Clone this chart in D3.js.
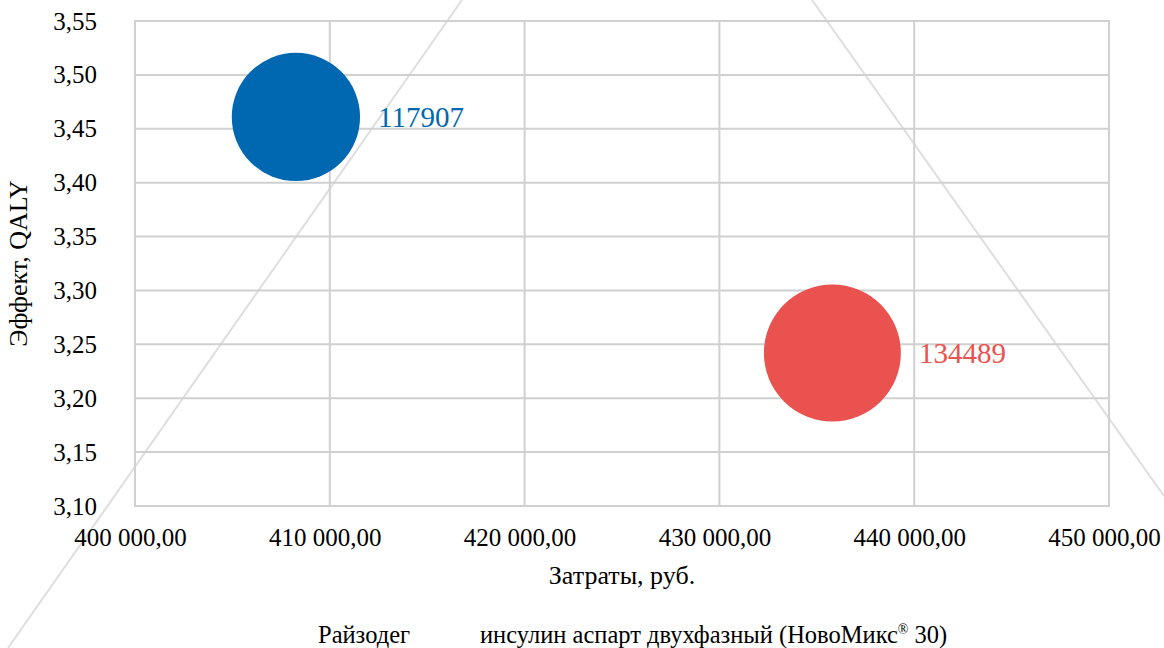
<!DOCTYPE html>
<html lang="ru">
<head>
<meta charset="utf-8">
<title>Затраты и эффект</title>
<script src="https://cdn.jsdelivr.net/npm/d3@7"></script>
<style>
  html, body { margin: 0; padding: 0; background: #ffffff; }
  svg { display: block; font-family: "Liberation Serif", "Times New Roman", serif; }
</style>
</head>
<body>
<svg id="chart" width="1164" height="648"></svg>
<script>
// Series data
const categories = ["Райзодег", "инсулин аспарт двухфазный (НовоМикс® 30)"];
const costs = [408260, 435800];      // Затраты, руб.
const effects = [3.461, 3.242];      // Эффект, QALY
const sizes = [117907, 134489];      // bubble size values
const colors = ["#0068b1", "#e9524e"];

// Axis ticks
const xTicks = [400000, 410000, 420000, 430000, 440000, 450000];
const yTicks = [3.10, 3.15, 3.20, 3.25, 3.30, 3.35, 3.40, 3.45, 3.50, 3.55];

const W = 1164, H = 648;
const margin = { left: 135, right: 55, top: 21, bottom: 142 };
const svg = d3.select("#chart");

const ru = d3.formatLocale({ decimal: ",", thousands: " ", grouping: [3], currency: ["", " руб."] });
const fmtX = ru.format(",.2f");
const fmtY = ru.format(".2f");

const x = d3.scaleLinear().domain([400000, 450000]).range([margin.left, W - margin.right]);
const y = d3.scaleLinear().domain([3.10, 3.55]).range([H - margin.bottom, margin.top]);
const r = d3.scaleSqrt().domain([0, d3.max(sizes)]).range([0, 68.5]);

// Decorative background wedge
const deco = svg.append("g").attr("stroke", "#dedede").attr("stroke-width", 2).attr("fill", "none");
deco.append("line").attr("x1", 462).attr("y1", 0).attr("x2", 8).attr("y2", H);
deco.append("line").attr("x1", 812).attr("y1", 0).attr("x2", 1164).attr("y2", 496);

// Gridlines
const grid = svg.append("g").attr("stroke", "#d0d0d0").attr("stroke-width", 2);
grid.selectAll("line.gx").data(xTicks).join("line").attr("class", "gx")
  .attr("x1", d => x(d)).attr("x2", d => x(d))
  .attr("y1", y(3.55)).attr("y2", y(3.10));
grid.selectAll("line.gy").data(yTicks).join("line").attr("class", "gy")
  .attr("y1", d => y(d)).attr("y2", d => y(d))
  .attr("x1", x(400000) - 1).attr("x2", x(450000) + 1);

// Axes (labels only, lines are the grid)
const xAxis = svg.append("g").attr("transform", `translate(-5,${y(3.10)})`)
  .call(d3.axisBottom(x).tickValues(xTicks).tickFormat(fmtX).tickSize(0).tickPadding(22));
xAxis.select(".domain").remove();
xAxis.selectAll("text").attr("font-size", 25).attr("fill", "#000").attr("font-family", "Liberation Serif");

const yAxis = svg.append("g").attr("transform", `translate(${x(400000)},0)`)
  .call(d3.axisLeft(y).tickValues(yTicks).tickFormat(fmtY).tickSize(0).tickPadding(38));
yAxis.select(".domain").remove();
yAxis.selectAll("text").attr("font-size", 25).attr("fill", "#000").attr("font-family", "Liberation Serif");

// Bubbles
const pts = categories.map((c, i) => ({ c, cost: costs[i], eff: effects[i], size: sizes[i], color: colors[i] }));
svg.append("g").selectAll("circle").data(pts).join("circle")
  .attr("cx", d => x(d.cost)).attr("cy", d => y(d.eff)).attr("r", d => r(d.size))
  .attr("fill", d => d.color);

// Bubble value labels
svg.append("g").selectAll("text").data(pts).join("text")
  .attr("x", d => x(d.cost) + r(d.size) + 18)
  .attr("y", d => y(d.eff))
  .attr("dy", "0.35em")
  .attr("font-size", 29)
  .attr("fill", d => d.color)
  .text(d => d.size);

// Axis titles
svg.append("text").attr("x", (x(400000) + x(450000)) / 2).attr("y", 584)
  .attr("text-anchor", "middle").attr("font-size", 26).text("Затраты, руб.");
svg.append("text").attr("transform", `translate(27,${(y(3.10) + y(3.55)) / 2}) rotate(-90)`)
  .attr("text-anchor", "middle").attr("font-size", 26).text("Эффект, QALY");

// Legend
const legendX = [318, 480];
const lg = svg.append("g").attr("font-size", 24.5);
lg.append("text").attr("x", legendX[0]).attr("y", 643).text(categories[0]);
const t2 = lg.append("text").attr("x", legendX[1]).attr("y", 643);
const parts = categories[1].split("®");
t2.append("tspan").text(parts[0]);
t2.append("tspan").attr("font-size", 14).attr("dy", -9).text("®");
t2.append("tspan").attr("dy", 9).text(parts[1]);
</script>
</body>
</html>
